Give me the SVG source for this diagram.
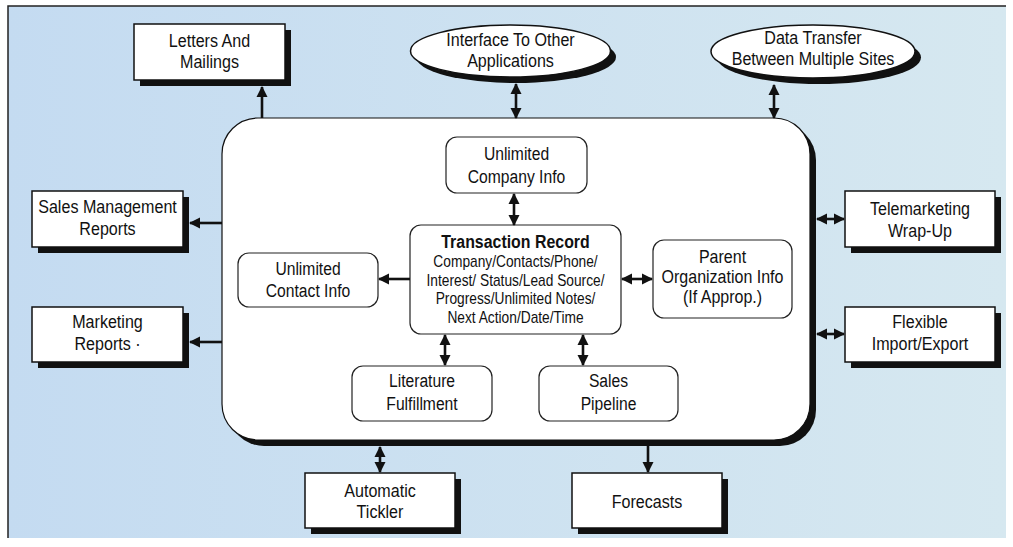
<svg xmlns="http://www.w3.org/2000/svg" width="1013" height="547" viewBox="0 0 1013 547">
<style>
text{font-family:"Liberation Sans Narrow","Liberation Sans",Arial,sans-serif;fill:#111;text-anchor:middle}
.t{font-size:18.5px}
.u{font-size:18px}
.s{font-size:16px}
.b{font-size:18.5px;font-weight:bold}
.box{fill:#fff;stroke:#111;stroke-width:1.5}
.shd{fill:#111}
.in{fill:#fff;stroke:#222;stroke-width:1.2}
.c{stroke:#111;stroke-width:2.6;fill:none}
.one{marker-end:url(#ah)}
.two{marker-start:url(#ah);marker-end:url(#ah)}
</style>
<defs>
<linearGradient id="bg" x1="0" y1="0" x2="1" y2="0">
<stop offset="0" stop-color="#c4dbf1"/>
<stop offset="1" stop-color="#d6e8f0"/>
</linearGradient>
<marker id="ah" markerUnits="userSpaceOnUse" markerWidth="12" markerHeight="12" refX="10" refY="6" orient="auto-start-reverse">
<path d="M0,0.5 L11,6 L0,11.5 z" fill="#111"/>
</marker>
</defs>
<rect x="0" y="0" width="1013" height="547" fill="#fff"/>
<rect x="8" y="6" width="998" height="532" fill="url(#bg)"/>
<path d="M8,538 V6 H1006" fill="none" stroke="#222" stroke-width="1.5"/>

<g id="main">
<rect x="228" y="124" width="588" height="322" rx="36" class="shd"/>
<rect x="222" y="118" width="588" height="322" rx="36" fill="#fff" stroke="#111" stroke-width="1.2"/>
</g>

<g id="letters">
<rect x="140" y="30" width="151" height="56" class="shd"/>
<rect x="134" y="24" width="151" height="56" class="box"/>
<g transform="translate(209.5 0) scale(0.87 1)">
<text class="t" x="0" y="47">Letters And</text>
<text class="t" x="0" y="68">Mailings</text>
</g>
</g>

<g id="interface">
<ellipse cx="516" cy="57" rx="100" ry="26" class="shd"/>
<ellipse cx="510.5" cy="51" rx="100" ry="26" class="box"/>
<g transform="translate(510.5 0) scale(0.87 1)">
<text class="t" x="0" y="46.5">Interface To Other</text>
<text class="t" x="0" y="67.5">Applications</text>
</g>
</g>

<g id="datatransfer">
<ellipse cx="819" cy="57.5" rx="102" ry="26.5" class="shd"/>
<ellipse cx="813" cy="51.5" rx="102" ry="26.5" class="box"/>
<g transform="translate(813 0) scale(0.87 1)">
<text class="t" x="0" y="44">Data Transfer</text>
<text class="t" x="0" y="65">Between Multiple Sites</text>
</g>
</g>

<g id="companyinfo">
<rect x="446" y="137" width="141" height="56" rx="11" class="in"/>
<g transform="translate(516.5 0) scale(0.87 1)">
<text class="u" x="0" y="160">Unlimited</text>
<text class="u" x="0" y="183">Company Info</text>
</g>
</g>

<g id="transaction">
<rect x="410" y="225" width="211" height="109" rx="11" class="in"/>
<g transform="translate(515.5 0) scale(0.86 1)">
<text class="b" x="0" y="248">Transaction Record</text>
<text class="s" x="0" y="267">Company/Contacts/Phone/</text>
<text class="s" x="0" y="286">Interest/ Status/Lead Source/</text>
<text class="s" x="0" y="304">Progress/Unlimited Notes/</text>
<text class="s" x="0" y="323">Next Action/Date/Time</text>
</g>
</g>

<g id="contactinfo">
<rect x="238" y="253" width="140" height="54" rx="11" class="in"/>
<g transform="translate(308 0) scale(0.87 1)">
<text class="u" x="0" y="275">Unlimited</text>
<text class="u" x="0" y="297">Contact Info</text>
</g>
</g>

<g id="parentorg">
<rect x="653" y="240" width="139" height="78" rx="11" class="in"/>
<g transform="translate(722.5 0) scale(0.89 1)">
<text class="u" x="0" y="263">Parent</text>
<text class="u" x="0" y="283">Organization Info</text>
<text class="u" x="0" y="303">(If Approp.)</text>
</g>
</g>

<g id="literature">
<rect x="352" y="366" width="140" height="55" rx="11" class="in"/>
<g transform="translate(422 0) scale(0.87 1)">
<text class="u" x="0" y="387">Literature</text>
<text class="u" x="0" y="410">Fulfillment</text>
</g>
</g>

<g id="pipeline">
<rect x="539" y="366" width="139" height="55" rx="11" class="in"/>
<g transform="translate(608.5 0) scale(0.87 1)">
<text class="u" x="0" y="387">Sales</text>
<text class="u" x="0" y="410">Pipeline</text>
</g>
</g>

<g id="salesmgmt">
<rect x="38" y="197" width="151" height="56" class="shd"/>
<rect x="32" y="191" width="151" height="56" class="box"/>
<g transform="translate(107.5 0) scale(0.87 1)">
<text class="t" x="0" y="213">Sales Management</text>
<text class="t" x="0" y="235">Reports</text>
</g>
</g>

<g id="marketing">
<rect x="38" y="313" width="151" height="55" class="shd"/>
<rect x="32" y="307" width="151" height="55" class="box"/>
<g transform="translate(107.5 0) scale(0.87 1)">
<text class="t" x="0" y="328">Marketing</text>
<text class="t" x="0" y="350">Reports ·</text>
</g>
</g>

<g id="telemarketing">
<rect x="851" y="197" width="150" height="56" class="shd"/>
<rect x="845" y="191" width="150" height="56" class="box"/>
<g transform="translate(920 0) scale(0.87 1)">
<text class="t" x="0" y="215">Telemarketing</text>
<text class="t" x="0" y="237">Wrap-Up</text>
</g>
</g>

<g id="importexport">
<rect x="851" y="313" width="150" height="55" class="shd"/>
<rect x="845" y="307" width="150" height="55" class="box"/>
<g transform="translate(920 0) scale(0.87 1)">
<text class="t" x="0" y="328">Flexible</text>
<text class="t" x="0" y="350">Import/Export</text>
</g>
</g>

<g id="tickler">
<rect x="311" y="479" width="150" height="55" class="shd"/>
<rect x="305" y="473" width="150" height="55" class="box"/>
<g transform="translate(380 0) scale(0.87 1)">
<text class="t" x="0" y="497">Automatic</text>
<text class="t" x="0" y="518">Tickler</text>
</g>
</g>

<g id="forecasts">
<rect x="578" y="479" width="150" height="55" class="shd"/>
<rect x="572" y="473" width="150" height="55" class="box"/>
<g transform="translate(647 0) scale(0.87 1)">
<text class="t" x="0" y="508">Forecasts</text>
</g>
</g>

<g id="connectors">
<line class="c one" x1="262" y1="118" x2="262" y2="87"/>
<line class="c two" x1="516" y1="84" x2="516" y2="118"/>
<line class="c two" x1="774" y1="85" x2="774" y2="118"/>
<line class="c two" x1="514" y1="194" x2="514" y2="225"/>
<line class="c one" x1="410" y1="279" x2="379" y2="279"/>
<line class="c two" x1="622" y1="279" x2="652" y2="279"/>
<line class="c two" x1="445" y1="335" x2="445" y2="365"/>
<line class="c two" x1="583" y1="335" x2="583" y2="365"/>
<line class="c one" x1="222" y1="223" x2="190" y2="223"/>
<line class="c one" x1="222" y1="342" x2="190" y2="342"/>
<line class="c two" x1="817" y1="219" x2="844" y2="219"/>
<line class="c two" x1="817" y1="334" x2="844" y2="334"/>
<line class="c two" x1="380" y1="447" x2="380" y2="472"/>
<line class="c one" x1="648" y1="446" x2="648" y2="472"/>
</g>
</svg>
